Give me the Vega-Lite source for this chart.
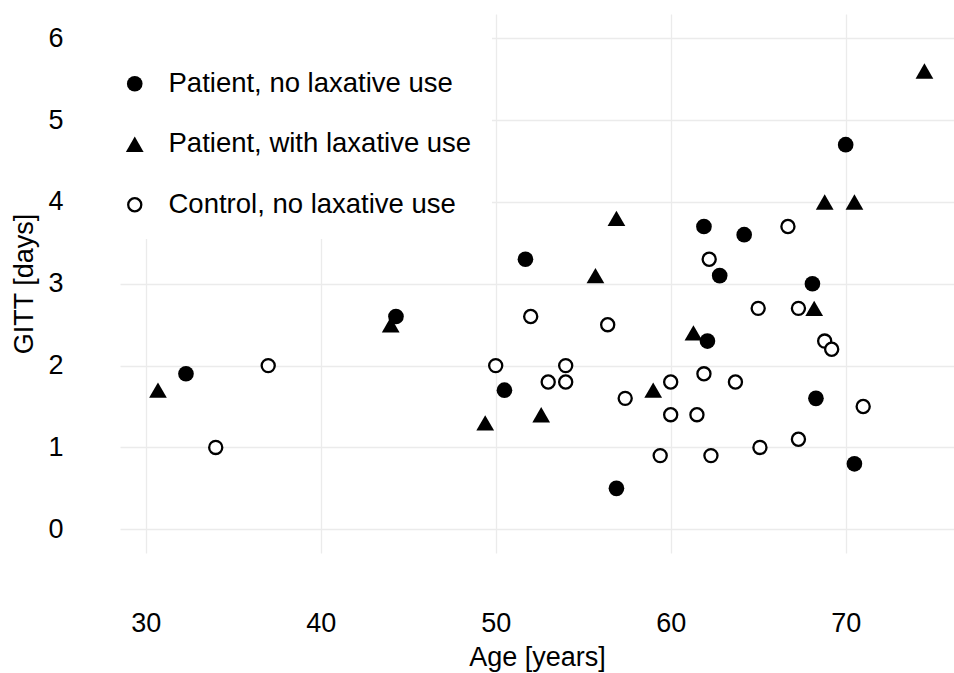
{
  "$schema": "https://vega.github.io/schema/vega-lite/v6.json",
  "width": 834,
  "height": 539,
  "autosize": {"type": "none"},
  "padding": {"left": 120, "top": 14, "right": 0, "bottom": 120},
  "background": "white",
  "data": {
    "values": [
      {"age": 32.3, "gitt": 1.9, "group": "Patient, no laxative use"},
      {"age": 44.3, "gitt": 2.6, "group": "Patient, no laxative use"},
      {"age": 51.7, "gitt": 3.3, "group": "Patient, no laxative use"},
      {"age": 50.5, "gitt": 1.7, "group": "Patient, no laxative use"},
      {"age": 56.9, "gitt": 0.5, "group": "Patient, no laxative use"},
      {"age": 61.9, "gitt": 3.7, "group": "Patient, no laxative use"},
      {"age": 64.2, "gitt": 3.6, "group": "Patient, no laxative use"},
      {"age": 62.8, "gitt": 3.1, "group": "Patient, no laxative use"},
      {"age": 62.1, "gitt": 2.3, "group": "Patient, no laxative use"},
      {"age": 68.1, "gitt": 3.0, "group": "Patient, no laxative use"},
      {"age": 68.3, "gitt": 1.6, "group": "Patient, no laxative use"},
      {"age": 70.0, "gitt": 4.7, "group": "Patient, no laxative use"},
      {"age": 70.5, "gitt": 0.8, "group": "Patient, no laxative use"},
      {"age": 30.7, "gitt": 1.7, "group": "Patient, with laxative use"},
      {"age": 44.0, "gitt": 2.5, "group": "Patient, with laxative use"},
      {"age": 49.4, "gitt": 1.3, "group": "Patient, with laxative use"},
      {"age": 52.6, "gitt": 1.4, "group": "Patient, with laxative use"},
      {"age": 55.7, "gitt": 3.1, "group": "Patient, with laxative use"},
      {"age": 56.9, "gitt": 3.8, "group": "Patient, with laxative use"},
      {"age": 59.0, "gitt": 1.7, "group": "Patient, with laxative use"},
      {"age": 61.3, "gitt": 2.4, "group": "Patient, with laxative use"},
      {"age": 68.2, "gitt": 2.7, "group": "Patient, with laxative use"},
      {"age": 68.8, "gitt": 4.0, "group": "Patient, with laxative use"},
      {"age": 70.5, "gitt": 4.0, "group": "Patient, with laxative use"},
      {"age": 74.5, "gitt": 5.6, "group": "Patient, with laxative use"},
      {"age": 34.0, "gitt": 1.0, "group": "Control, no laxative use"},
      {"age": 37.0, "gitt": 2.0, "group": "Control, no laxative use"},
      {"age": 50.0, "gitt": 2.0, "group": "Control, no laxative use"},
      {"age": 52.0, "gitt": 2.6, "group": "Control, no laxative use"},
      {"age": 53.0, "gitt": 1.8, "group": "Control, no laxative use"},
      {"age": 54.0, "gitt": 1.8, "group": "Control, no laxative use"},
      {"age": 54.0, "gitt": 2.0, "group": "Control, no laxative use"},
      {"age": 56.4, "gitt": 2.5, "group": "Control, no laxative use"},
      {"age": 57.4, "gitt": 1.6, "group": "Control, no laxative use"},
      {"age": 59.4, "gitt": 0.9, "group": "Control, no laxative use"},
      {"age": 60.0, "gitt": 1.8, "group": "Control, no laxative use"},
      {"age": 60.0, "gitt": 1.4, "group": "Control, no laxative use"},
      {"age": 61.5, "gitt": 1.4, "group": "Control, no laxative use"},
      {"age": 61.9, "gitt": 1.9, "group": "Control, no laxative use"},
      {"age": 62.2, "gitt": 3.3, "group": "Control, no laxative use"},
      {"age": 62.3, "gitt": 0.9, "group": "Control, no laxative use"},
      {"age": 63.7, "gitt": 1.8, "group": "Control, no laxative use"},
      {"age": 65.0, "gitt": 2.7, "group": "Control, no laxative use"},
      {"age": 65.1, "gitt": 1.0, "group": "Control, no laxative use"},
      {"age": 66.7, "gitt": 3.7, "group": "Control, no laxative use"},
      {"age": 67.3, "gitt": 2.7, "group": "Control, no laxative use"},
      {"age": 67.3, "gitt": 1.1, "group": "Control, no laxative use"},
      {"age": 68.8, "gitt": 2.3, "group": "Control, no laxative use"},
      {"age": 69.2, "gitt": 2.2, "group": "Control, no laxative use"},
      {"age": 71.0, "gitt": 1.5, "group": "Control, no laxative use"}
    ]
  },
  "mark": {"type": "point", "strokeWidth": 2.3, "opacity": 1},
  "encoding": {
    "x": {
      "field": "age", "type": "quantitative",
      "scale": {"domain": [28.53, 76.19], "nice": false, "zero": false},
      "axis": {"title": "Age [years]", "values": [30, 40, 50, 60, 70], "labelPadding": 57, "titlePadding": 8}
    },
    "y": {
      "field": "gitt", "type": "quantitative",
      "scale": {"domain": [-0.29, 6.297], "nice": false, "zero": false},
      "axis": {"title": "GITT [days]", "values": [0, 1, 2, 3, 4, 5, 6], "labelPadding": 57, "titlePadding": 9}
    },
    "shape": {
      "field": "group", "type": "nominal",
      "scale": {"domain": ["Patient, no laxative use", "Patient, with laxative use", "Control, no laxative use"], "range": ["circle", "triangle-up", "circle"]},
      "legend": {
        "title": " ", "orient": "none", "legendX": -19, "legendY": 0,
        "padding": 20, "fillColor": "white", "rowPadding": 31.5, "labelOffset": 20,
        "titleFontSize": 18, "titlePadding": 18, "symbolStrokeWidth": 2.3
      }
    },
    "fill": {
      "field": "group", "type": "nominal",
      "scale": {"domain": ["Patient, no laxative use", "Patient, with laxative use", "Control, no laxative use"], "range": ["black", "black", "white"]}
    },
    "stroke": {
      "field": "group", "type": "nominal",
      "scale": {"domain": ["Patient, no laxative use", "Patient, with laxative use", "Control, no laxative use"], "range": ["rgba(0,0,0,0)", "rgba(0,0,0,0)", "black"]}
    },
    "size": {
      "field": "group", "type": "nominal",
      "scale": {"type": "ordinal", "domain": ["Patient, no laxative use", "Patient, with laxative use", "Control, no laxative use"], "range": [245, 315, 172]}
    }
  },
  "config": {
    "font": "Liberation Sans",
    "view": {"stroke": null},
    "axis": {
      "domain": false, "ticks": false, "tickSize": 0,
      "grid": true, "gridColor": "#ebebeb", "gridWidth": 1.3,
      "labelFont": "Liberation Sans", "labelFontSize": 27, "labelColor": "black",
      "titleFont": "Liberation Sans", "titleFontSize": 27, "titleColor": "black", "titleFontWeight": "normal"
    },
    "legend": {
      "labelFont": "Liberation Sans", "labelFontSize": 27.5, "labelColor": "black", "labelLimit": 500
    }
  }
}
